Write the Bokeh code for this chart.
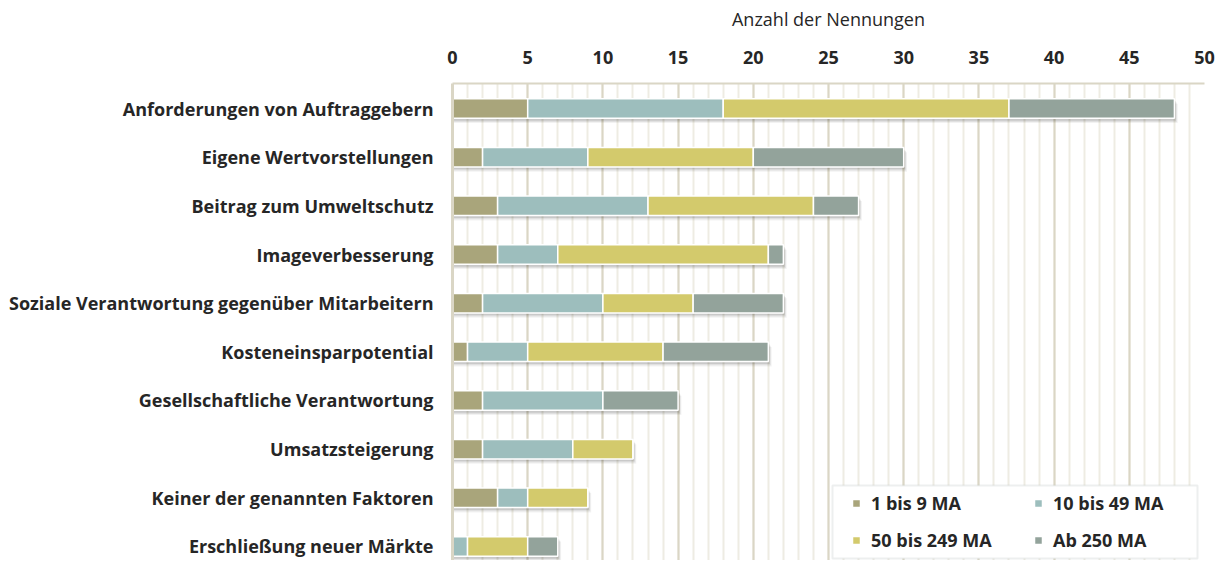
from bokeh.plotting import figure
from bokeh.models import ColumnDataSource, Range1d, FixedTicker, Legend, LegendItem, BoxAnnotation
from bokeh.transform import dodge
from bokeh.embed import file_html
from bokeh.resources import INLINE
import numpy as np

categories = [
    "Anforderungen von Auftraggebern",
    "Eigene Wertvorstellungen",
    "Beitrag zum Umweltschutz",
    "Imageverbesserung",
    "Soziale Verantwortung gegenüber Mitarbeitern",
    "Kosteneinsparpotential",
    "Gesellschaftliche Verantwortung",
    "Umsatzsteigerung",
    "Keiner der genannten Faktoren",
    "Erschließung neuer Märkte",
]
series_names = ["1 bis 9 MA", "10 bis 49 MA", "50 bis 249 MA", "Ab 250 MA"]
s1 = [5, 2, 3, 3, 2, 1, 2, 2, 3, 0]
s2 = [13, 7, 10, 4, 8, 4, 8, 6, 2, 1]
s3 = [19, 11, 11, 14, 6, 9, 0, 4, 4, 4]
s4 = [11, 10, 3, 1, 6, 7, 5, 0, 0, 2]
x_ticks = [0, 5, 10, 15, 20, 25, 30, 35, 40, 45, 50]
colors = ["#A9A57B", "#9DBEBD", "#D3CA6C", "#93A39B"]

FONT = "Open Sans"
TXT = "#262626"
BEIGE = "#DAD6C5"

W, H_FIG = 1217, 560
FL, FR, FT, FB = 452, 1204, 83, 560  # frame edges in px
X0, X1 = 0, 50
Y_TOP, Y_BOT = -0.514, 9.288

ys = list(range(len(categories)))
data = np.array([s1, s2, s3, s4], dtype=float)
cum = np.cumsum(data, axis=0)
src = ColumnDataSource(dict(
    y=ys,
    l1=[0.0] * len(ys), r1=cum[0], l2=cum[0], r2=cum[1],
    l3=cum[1], r3=cum[2], l4=cum[2], r4=cum[3],
    total=cum[3], zero=[0.0] * len(ys),
))

p = figure(width=W, height=H_FIG, output_backend="svg", toolbar_location=None,
           x_range=Range1d(X0, X1), y_range=Range1d(Y_BOT, Y_TOP),
           x_axis_location="above", min_border_left=FL, min_border_right=W - FR,
           min_border_top=FT, min_border_bottom=H_FIG - FB)
p.background_fill_color = "white"
p.border_fill_color = "white"
p.outline_line_color = None

ticker = FixedTicker(ticks=x_ticks, minor_ticks=list(range(0, 51)))
p.xaxis.ticker = ticker
p.xgrid.ticker = ticker
p.xgrid.grid_line_color = BEIGE
p.xgrid.grid_line_width = 2
p.xgrid.minor_grid_line_color = "#EEECE3"
p.xgrid.minor_grid_line_width = 2
p.ygrid.grid_line_color = None

p.xaxis.axis_label = "Anzahl der Nennungen"
p.xaxis.axis_label_text_font = FONT
p.xaxis.axis_label_text_font_style = "normal"
p.xaxis.axis_label_text_font_size = "18px"
p.xaxis.axis_label_text_color = TXT
p.xaxis.axis_label_standoff = 17
p.xaxis.major_label_text_font = FONT
p.xaxis.major_label_text_font_style = "bold"
p.xaxis.major_label_text_font_size = "18px"
p.xaxis.major_label_text_color = TXT
p.xaxis.major_label_standoff = 16
p.xaxis.major_tick_out = 0
p.xaxis.major_tick_in = 0
p.xaxis.major_tick_line_color = None
p.xaxis.minor_tick_line_color = None
p.xaxis.axis_line_color = BEIGE
p.xaxis.axis_line_width = 2

p.yaxis.ticker = FixedTicker(ticks=ys)
p.yaxis.major_label_overrides = {i: c for i, c in enumerate(categories)}
p.yaxis.major_label_text_font = FONT
p.yaxis.major_label_text_font_style = "bold"
p.yaxis.major_label_text_font_size = "18px"
p.yaxis.major_label_text_color = TXT
p.yaxis.major_label_standoff = 19
p.yaxis.major_tick_out = 0
p.yaxis.major_tick_in = 0
p.yaxis.major_tick_line_color = None
p.yaxis.minor_tick_line_color = None
p.yaxis.axis_line_color = BEIGE
p.yaxis.axis_line_width = 3

BAR_H = 0.4
# soft shadow
for dy, dx, a in [(0.10, 0.22, 0.05), (0.075, 0.16, 0.07), (0.05, 0.10, 0.10)]:
    p.hbar(y=dodge("y", dy), left="zero", right=dodge("total", dx), height=BAR_H,
           source=src, fill_color="black", fill_alpha=a, line_color=None)

renderers = []
for k in range(4):
    r = p.hbar(y="y", left=f"l{k+1}", right=f"r{k+1}", height=BAR_H, source=src,
               fill_color=colors[k], line_color="white", line_width=1.5)
    renderers.append(r)

# legend frame (box) – pixel positions converted to data space
def px_to_x(px):
    return X0 + (px - FL) * (X1 - X0) / (FR - FL)

def px_to_y(py):
    return Y_TOP + (py - FT) * (Y_BOT - Y_TOP) / (FB - FT)

box = BoxAnnotation(left=px_to_x(832), right=px_to_x(1197), top=px_to_y(485), bottom=px_to_y(558),
                    fill_color="white", fill_alpha=1, line_color="#C5CBCB", line_width=2)
p.add_layout(box)

order = [0, 2, 1, 3]
legend = Legend(items=[LegendItem(label=series_names[k], renderers=[renderers[k]]) for k in order],
                ncols=2, location=(851 - FL, FB - 552))
legend.label_text_font = FONT
legend.label_text_font_style = "bold"
legend.label_text_font_size = "18px"
legend.label_text_color = TXT
legend.glyph_width = 10
legend.glyph_height = 10
legend.label_standoff = 10
legend.label_height = 24
legend.label_width = 149
legend.spacing = 13
legend.padding = 6
legend.margin = 0
legend.border_line_color = None
legend.background_fill_alpha = 0
p.add_layout(legend, "center")

open("out.html", "w").write(file_html(p, INLINE))
